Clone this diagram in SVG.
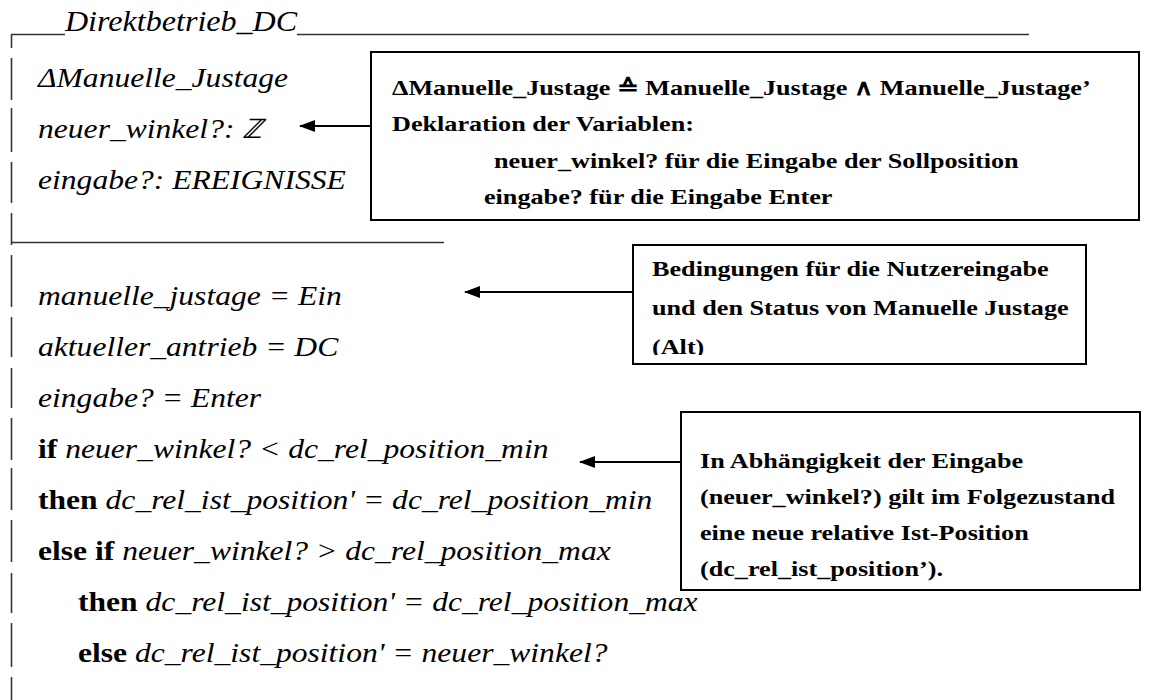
<svg xmlns="http://www.w3.org/2000/svg" width="1155" height="700" viewBox="0 0 1155 700">
<defs>
<style>
.it{font-family:"Liberation Serif","Times New Roman",serif;font-style:italic;font-size:27px;fill:#000}
.b{font-style:normal;font-weight:bold}
.title{font-family:"Liberation Serif","Times New Roman",serif;font-style:italic;font-size:30px;fill:#000}
.bx{font-family:"Liberation Serif","Times New Roman",serif;font-weight:bold;font-size:22px;fill:#000}
.frame{stroke:#333;stroke-width:1.6;fill:none}
.box{fill:#fff;stroke:#000;stroke-width:2}
.conn{stroke:#000;stroke-width:2;fill:none}
</style>
<marker id="ah" markerWidth="16" markerHeight="12" refX="15" refY="6" orient="auto" markerUnits="userSpaceOnUse">
<path d="M0,0 L16,6 L0,12 Z" fill="#000"/>
</marker>
<clipPath id="clip2"><rect x="633" y="245" width="453" height="110"/></clipPath>
</defs>

<g id="schema">
<path class="frame" d="M11,34.5 H65 M297,34.5 H1029 M11,242.5 H444"/>
<path class="frame" d="M11.5,34.5 V48 M11.5,58 V100 M11.5,108 V152 M11.5,162 V203 M11.5,213 V245 M11.5,255 V307 M11.5,317 V357 M11.5,368 V408 M11.5,418 V460 M11.5,468 V510 M11.5,520 V562 M11.5,573 V613 M11.5,623 V667 M11.5,677 V700"/>
<g transform="scale(1.07,1)">
<text class="title" x="60.7" y="31">Direktbetrieb_DC</text>
</g>
<g transform="scale(1.17,1)">
<text class="it" x="32.5" y="87">ΔManuelle_Justage</text>
<text class="it" x="32.5" y="138">neuer_winkel?: ℤ</text>
<text class="it" x="32.5" y="189">eingabe?: EREIGNISSE</text>
<text class="it" x="32.5" y="305">manuelle_justage = Ein</text>
<text class="it" x="32.5" y="356">aktueller_antrieb = DC</text>
<text class="it" x="32.5" y="407">eingabe? = Enter</text>
<text class="it" x="32.5" y="458"><tspan class="b">if</tspan> neuer_winkel? &lt; dc_rel_position_min</text>
<text class="it" x="32.5" y="509"><tspan class="b">then</tspan> dc_rel_ist_position' = dc_rel_position_min</text>
<text class="it" x="32.5" y="560"><tspan class="b">else if</tspan> neuer_winkel? &gt; dc_rel_position_max</text>
<text class="it" x="66.7" y="611"><tspan class="b">then</tspan> dc_rel_ist_position' = dc_rel_position_max</text>
<text class="it" x="66.7" y="662"><tspan class="b">else</tspan> dc_rel_ist_position' = neuer_winkel?</text>
</g>
</g>

<g id="connectors">
<line class="conn" x1="371" y1="126" x2="300" y2="126" marker-end="url(#ah)"/>
<line class="conn" x1="633" y1="292" x2="465" y2="292" marker-end="url(#ah)"/>
<line class="conn" x1="681" y1="462" x2="580" y2="462" marker-end="url(#ah)"/>
</g>

<g id="note1">
<rect class="box" x="371" y="52" width="768" height="168"/>
<g transform="scale(1.19,1)">
<text class="bx" x="329.4" y="95">ΔManuelle_Justage ≙  Manuelle_Justage ∧  Manuelle_Justage’</text>
<text class="bx" x="329.4" y="131">Deklaration der Variablen:</text>
<text class="bx" x="415.1" y="168">neuer_winkel? für die Eingabe der Sollposition</text>
<text class="bx" x="406.7" y="204">eingabe? für die Eingabe Enter</text>
</g>
</g>

<g id="note2">
<rect class="box" x="633" y="245" width="453" height="119"/>
<g clip-path="url(#clip2)">
<g transform="scale(1.19,1)">
<text class="bx" x="547.9" y="276">Bedingungen für die Nutzereingabe</text>
<text class="bx" x="547.9" y="315">und den Status von Manuelle Justage</text>
<text class="bx" x="547.9" y="354">(Alt)</text>
</g>
</g>
</g>

<g id="note3">
<rect class="box" x="681" y="412" width="459" height="178"/>
<g transform="scale(1.19,1)">
<text class="bx" x="588.2" y="468">In Abhängigkeit der Eingabe</text>
<text class="bx" x="588.2" y="504">(neuer_winkel?) gilt im Folgezustand</text>
<text class="bx" x="588.2" y="540">eine neue relative Ist-Position</text>
<text class="bx" x="588.2" y="576">(dc_rel_ist_position’).</text>
</g>
</g>
</svg>
